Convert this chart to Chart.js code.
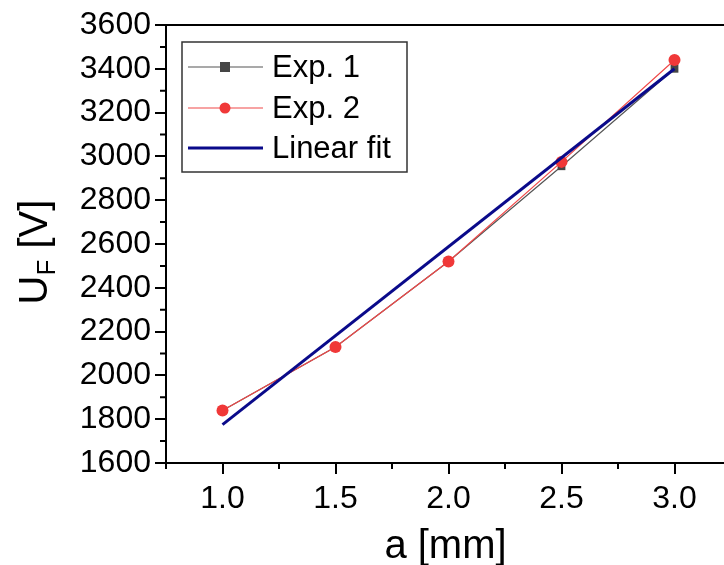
<!DOCTYPE html>
<html>
<head>
<meta charset="utf-8">
<script src="https://cdn.jsdelivr.net/npm/chart.js@4.4.1/dist/chart.umd.min.js"></script>
<style>
  html, body { margin: 0; padding: 0; background: #fff; overflow: hidden; }
  #wrap { width: 740px; height: 565px; position: relative; }
</style>
</head>
<body>
<div id="wrap"><canvas id="uf-chart"></canvas></div>
<script>
// gap a [mm] vs. voltage U_F [V]
var gapValues = [1.0, 1.5, 2.0, 2.5, 3.0];
var exp1Values = [1840, 2130, 2520, 2955, 3400];
var exp2Values = [1840, 2130, 2520, 2975, 3440];
var fitGap = [1.0, 3.0];
var fitValues = [1775, 3400];
var xTicks = [1.0, 1.5, 2.0, 2.5, 3.0];
var xMinorTicks = [0.75, 1.25, 1.75, 2.25, 2.75];
var yMinorTicks = [1700, 1900, 2100, 2300, 2500, 2700, 2900, 3100, 3300, 3500];

var FONT = "'Liberation Sans', Arial, sans-serif";

function pairs(xs, ys) {
    return xs.map(function(x, i) { return { x: x, y: ys[i] }; });
}

// frame, minor ticks, axis titles
var decorPlugin = {
    id: 'decor',
    afterDraw: function(chart) {
        var ctx = chart.ctx;
        var area = chart.chartArea;
        var xs = chart.scales.x;
        var ys = chart.scales.y;
        ctx.save();
        ctx.strokeStyle = '#000';
        ctx.lineWidth = 2;
        ctx.beginPath();
        ctx.moveTo(area.left - 1, area.top);
        ctx.lineTo(area.right, area.top);
        ctx.lineTo(area.right, area.bottom);
        ctx.stroke();

        ctx.beginPath();
        xMinorTicks.forEach(function(v) {
            var px = xs.getPixelForValue(v);
            ctx.moveTo(px, area.bottom);
            ctx.lineTo(px, area.bottom + 6);
        });
        yMinorTicks.forEach(function(v) {
            var py = ys.getPixelForValue(v);
            ctx.moveTo(area.left, py);
            ctx.lineTo(area.left - 6, py);
        });
        ctx.stroke();

        // x title
        ctx.fillStyle = '#000';
        ctx.font = '40px ' + FONT;
        ctx.textAlign = 'center';
        ctx.textBaseline = 'middle';
        ctx.fillText('a [mm]', (area.left + area.right) / 2 - 3, 547);

        // y title with subscript
        ctx.translate(33, 252);
        ctx.rotate(-Math.PI / 2);
        var main = '40px ' + FONT;
        var sub = '26px ' + FONT;
        ctx.font = main;
        var wU = ctx.measureText('U').width;
        var wRest = ctx.measureText(' [V]').width;
        ctx.font = sub;
        var wF = ctx.measureText('F').width;
        var x0 = -(wU + wF + wRest) / 2;
        ctx.textAlign = 'left';
        ctx.textBaseline = 'alphabetic';
        ctx.font = main;
        ctx.fillText('U', x0, 14);
        ctx.font = sub;
        ctx.fillText('F', x0 + wU, 22);
        ctx.font = main;
        ctx.fillText(' [V]', x0 + wU + wF, 14);
        ctx.restore();
    }
};

// legend box in the upper left of the plot
var legendPlugin = {
    id: 'boxLegend',
    afterDraw: function(chart) {
        var ctx = chart.ctx;
        var box = { x: 182, y: 42, w: 225, h: 130 };
        var rows = [67, 108, 148];
        ctx.save();
        ctx.fillStyle = '#fff';
        ctx.fillRect(box.x, box.y, box.w, box.h);
        ctx.strokeStyle = '#333';
        ctx.lineWidth = 1.5;
        ctx.strokeRect(box.x, box.y, box.w, box.h);
        chart.data.datasets.forEach(function(ds, i) {
            var y = rows[i];
            ctx.strokeStyle = ds.borderColor;
            ctx.lineWidth = ds.borderWidth;
            ctx.beginPath();
            ctx.moveTo(188, y);
            ctx.lineTo(263, y);
            ctx.stroke();
            if (ds.pointRadius > 0) {
                ctx.fillStyle = ds.pointBackgroundColor;
                if (ds.pointStyle === 'rect') {
                    ctx.fillRect(225 - 5, y - 5, 10, 10);
                } else {
                    ctx.beginPath();
                    ctx.arc(225, y, 5.5, 0, Math.PI * 2);
                    ctx.fill();
                }
            }
            ctx.fillStyle = '#000';
            ctx.font = '31px ' + FONT;
            ctx.textAlign = 'left';
            ctx.textBaseline = 'middle';
            ctx.fillText(ds.label, 272, y + 1);
        });
        ctx.restore();
    }
};

new Chart(document.getElementById('uf-chart'), {
    type: 'line',
    data: {
        datasets: [
            {
                label: 'Exp. 1',
                data: pairs(gapValues, exp1Values),
                borderColor: '#555555',
                borderWidth: 1.2,
                pointStyle: 'rect',
                pointRadius: 5.5,
                pointBackgroundColor: '#454545',
                pointBorderWidth: 0,
                order: 2
            },
            {
                label: 'Exp. 2',
                data: pairs(gapValues, exp2Values),
                borderColor: '#f04848',
                borderWidth: 1.2,
                pointStyle: 'circle',
                pointRadius: 6,
                pointBackgroundColor: '#f03838',
                pointBorderWidth: 0,
                order: 1
            },
            {
                label: 'Linear fit',
                data: pairs(fitGap, fitValues),
                borderColor: '#0a0a8a',
                borderWidth: 3,
                pointRadius: 0,
                pointBackgroundColor: '#0a0a8a',
                order: 0
            }
        ]
    },
    options: {
        responsive: true,
        maintainAspectRatio: false,
        animation: false,
        layout: { padding: { top: 25, right: 9, left: 0, bottom: 0 } },
        plugins: {
            legend: { display: false },
            tooltip: { enabled: false }
        },
        scales: {
            x: {
                type: 'linear',
                min: 0.75,
                max: 3.25,
                afterBuildTicks: function(scale) {
                    scale.ticks = xTicks.map(function(v) { return { value: v }; });
                },
                afterFit: function(scale) { scale.height = 102; },
                grid: { drawOnChartArea: false, drawTicks: true, tickLength: 11, color: '#000', lineWidth: 2 },
                border: { display: true, color: '#000', width: 2 },
                ticks: {
                    color: '#000',
                    padding: 6,
                    font: { family: FONT, size: 32 },
                    callback: function(v) { return Number(v).toFixed(1); }
                }
            },
            y: {
                min: 1600,
                max: 3600,
                afterFit: function(scale) { scale.width = 166; },
                grid: { drawOnChartArea: false, drawTicks: true, tickLength: 11, color: '#000', lineWidth: 2 },
                border: { display: true, color: '#000', width: 2 },
                ticks: {
                    stepSize: 200,
                    color: '#000',
                    padding: 4,
                    font: { family: FONT, size: 32 },
                    callback: function(v) { return String(v); }
                }
            }
        }
    },
    plugins: [decorPlugin, legendPlugin]
});
</script>
</body>
</html>
